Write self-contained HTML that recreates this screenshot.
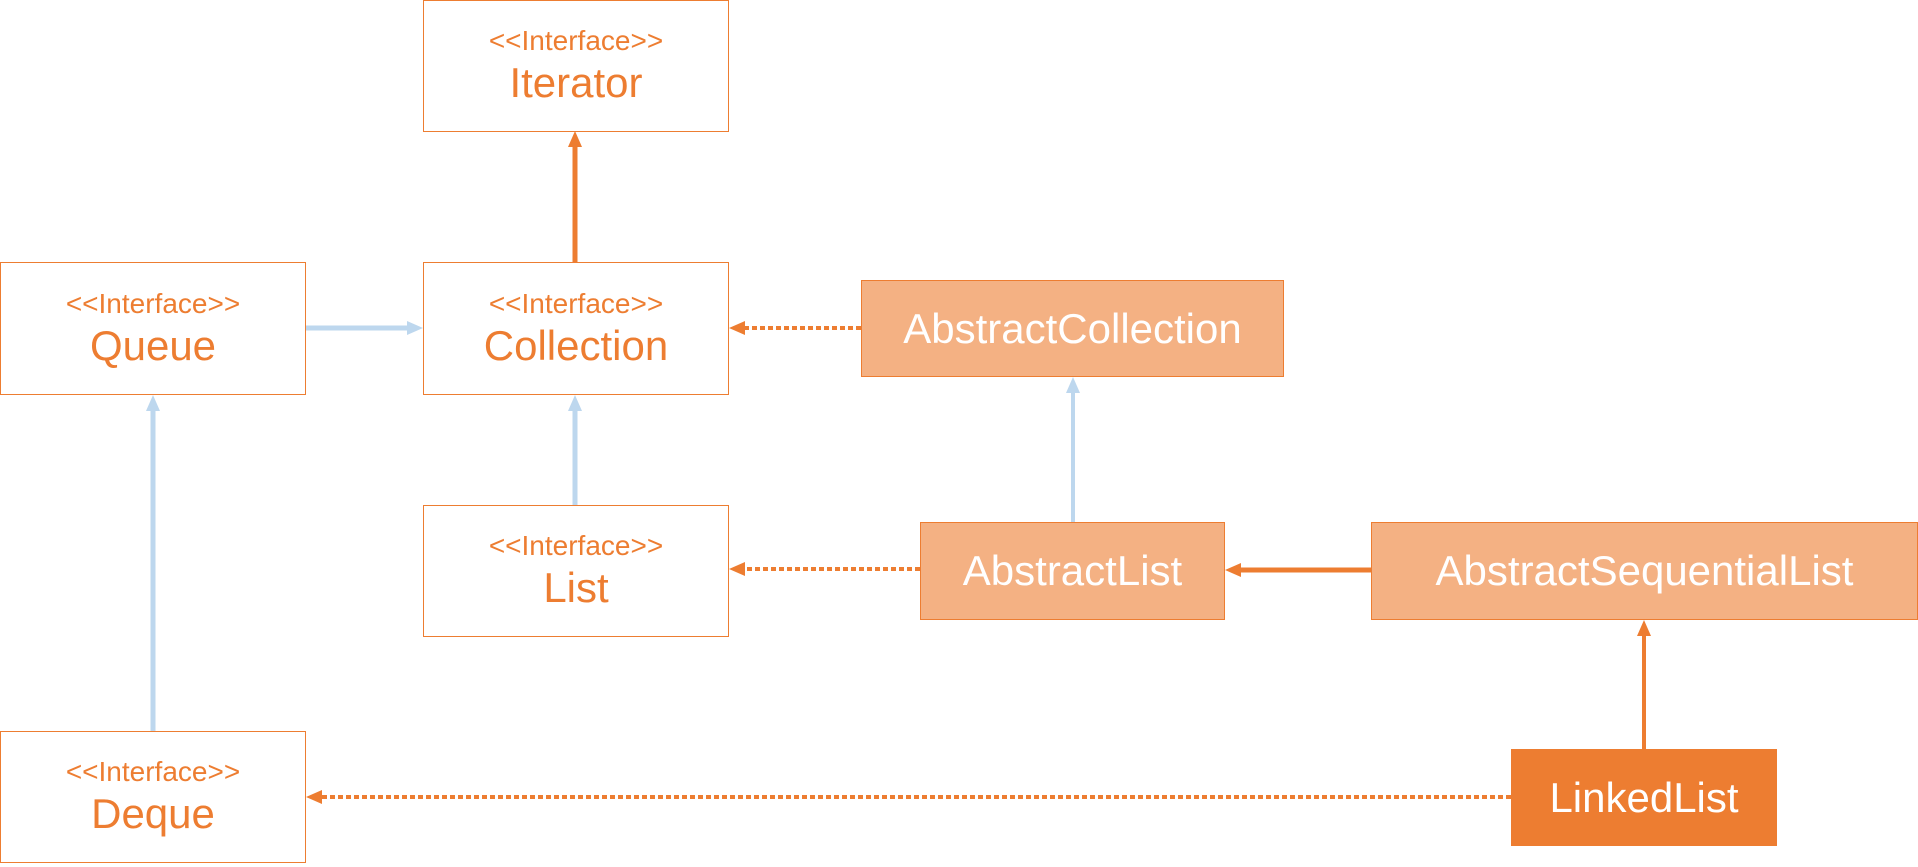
<!DOCTYPE html>
<html><head><meta charset="utf-8"><style>
html,body{margin:0;padding:0;background:#fff;width:1918px;height:867px;overflow:hidden}
.b{position:absolute;box-sizing:border-box;border:1.5px solid #ED7D31;display:flex;flex-direction:column;align-items:center;justify-content:center;font-family:"Comic Sans MS","Liberation Sans",sans-serif;color:#ED7D31;background:#fff}
.s{font-size:28px;line-height:34px}
.n{font-size:42px;line-height:50px}
.f{background:#F4B183;color:#fff}
.d{background:#ED7D31;color:#fff}
svg{position:absolute;left:0;top:0}
</style></head><body>
<div class="b" style="left:423px;top:0;width:306px;height:132px"><div class="s">&lt;&lt;Interface&gt;&gt;</div><div class="n">Iterator</div></div>
<div class="b" style="left:0;top:262px;width:306px;height:133px"><div class="s">&lt;&lt;Interface&gt;&gt;</div><div class="n">Queue</div></div>
<div class="b" style="left:423px;top:262px;width:306px;height:133px"><div class="s">&lt;&lt;Interface&gt;&gt;</div><div class="n">Collection</div></div>
<div class="b" style="left:423px;top:505px;width:306px;height:132px"><div class="s">&lt;&lt;Interface&gt;&gt;</div><div class="n">List</div></div>
<div class="b" style="left:0;top:731px;width:306px;height:132px"><div class="s">&lt;&lt;Interface&gt;&gt;</div><div class="n">Deque</div></div>
<div class="b f" style="left:861px;top:280px;width:423px;height:97px"><div class="n">AbstractCollection</div></div>
<div class="b f" style="left:920px;top:522px;width:305px;height:98px"><div class="n">AbstractList</div></div>
<div class="b f" style="left:1371px;top:522px;width:547px;height:98px"><div class="n">AbstractSequentialList</div></div>
<div class="b d" style="left:1511px;top:749px;width:266px;height:97px"><div class="n">LinkedList</div></div>
<svg width="1918" height="867">
<g fill="#ED7D31">
<line x1="575" y1="262" x2="575" y2="144" stroke="#ED7D31" stroke-width="5"/>
<polygon points="575,131 568,147 582,147"/>
<line x1="861" y1="328" x2="742" y2="328" stroke="#ED7D31" stroke-width="4" stroke-dasharray="5,3"/>
<polygon points="729,328 745,321 745,335"/>
<line x1="920" y1="569" x2="742" y2="569" stroke="#ED7D31" stroke-width="4" stroke-dasharray="5,3"/>
<polygon points="729,569 745,562 745,576"/>
<line x1="1371" y1="570" x2="1238" y2="570" stroke="#ED7D31" stroke-width="5"/>
<polygon points="1225,570 1241,563 1241,577"/>
<line x1="1644" y1="749" x2="1644" y2="632" stroke="#ED7D31" stroke-width="4"/>
<polygon points="1644,620 1637,636 1651,636"/>
<line x1="1511" y1="797" x2="319" y2="797" stroke="#ED7D31" stroke-width="4" stroke-dasharray="5,3"/>
<polygon points="306,797 322,790 322,804"/>
</g>
<g fill="#BDD7EE">
<line x1="306" y1="328" x2="410" y2="328" stroke="#BDD7EE" stroke-width="5"/>
<polygon points="423,328 407,321 407,335"/>
<line x1="575" y1="505" x2="575" y2="408" stroke="#BDD7EE" stroke-width="5"/>
<polygon points="575,395 568,411 582,411"/>
<line x1="153" y1="731" x2="153" y2="408" stroke="#BDD7EE" stroke-width="5"/>
<polygon points="153,395 146,411 160,411"/>
<line x1="1073" y1="522" x2="1073" y2="390" stroke="#BDD7EE" stroke-width="4"/>
<polygon points="1073,377 1066,393 1080,393"/>
</g>
</svg>
</body></html>
